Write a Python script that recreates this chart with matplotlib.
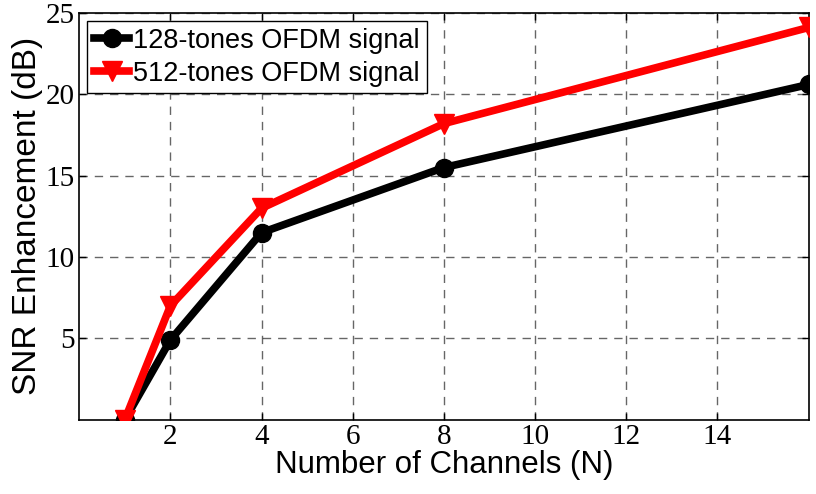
import matplotlib.pyplot as plt

# SNR enhancement versus number of combined channels
channels = [1, 2, 4, 8, 16]
snr_128 = [0.0, 4.9, 11.5, 15.5, 20.6]
snr_512 = [0.0, 7.0, 13.0, 18.2, 24.1]
labels = ["128-tones OFDM signal", "512-tones OFDM signal"]

fig = plt.figure(figsize=(8.16, 4.94), dpi=100)
ax = fig.add_axes([0.097, 0.150, 0.894, 0.824])

ax.plot(channels, snr_128, color="black", lw=5.5, marker="o", ms=13,
        label=labels[0], zorder=3)
ax.plot(channels, snr_512, color="red", lw=5.5, marker="v", ms=15,
        label=labels[1], zorder=4)

ax.set_xlim(0, 16)
ax.set_ylim(0, 25)
ax.set_xticks([2, 4, 6, 8, 10, 12, 14])
ax.set_yticks([5, 10, 15, 20, 25])
ax.grid(True, color="black", ls=(0, (6, 5)), lw=1, alpha=0.6)
ax.tick_params(direction="in", length=5, width=1, labelsize=21, pad=3,
               top=True, right=True)
for lab in ax.get_xticklabels() + ax.get_yticklabels():
    lab.set_family("Liberation Serif")
for sp in ax.spines.values():
    sp.set_linewidth(1.2)

ax.set_xlabel("Number of Channels (N)", family="Liberation Sans",
              fontsize=22.5, labelpad=0)
ax.set_ylabel("SNR Enhancement (dB)", family="Liberation Sans",
              fontsize=24, labelpad=2)

leg = ax.legend(loc="upper left", prop={"family": "Liberation Sans", "size": 19.5},
                handlelength=1.3, handletextpad=0.15, borderpad=0.25,
                labelspacing=0.25, fancybox=False, framealpha=1,
                borderaxespad=0.3)
leg.get_frame().set_edgecolor("black")
leg.get_frame().set_linewidth(1)

fig.savefig("out.png", dpi=100)
